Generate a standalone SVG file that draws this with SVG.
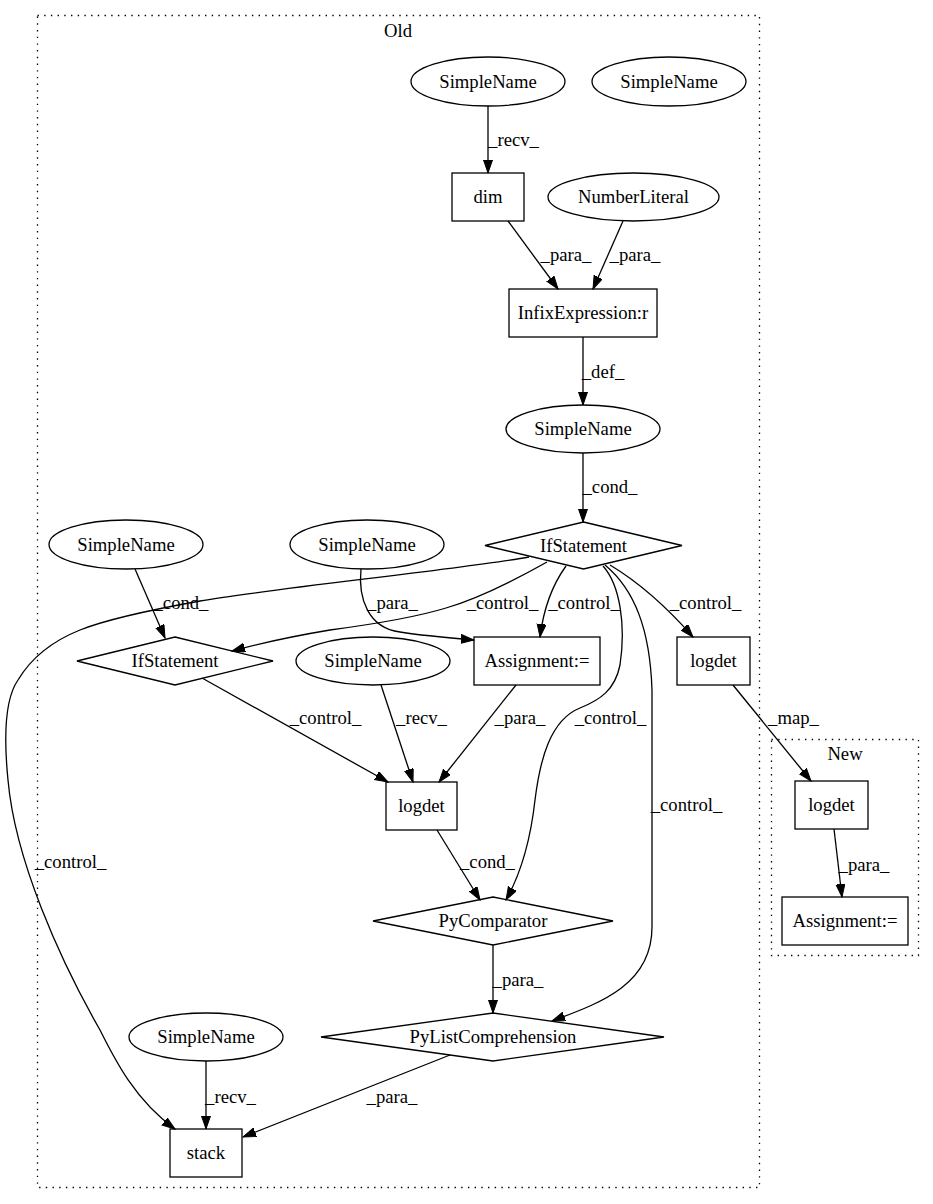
<svg xmlns="http://www.w3.org/2000/svg" width="933" height="1204" viewBox="0 0 933 1204">
<style>
text{font-family:"Liberation Serif","Times New Roman",serif;font-size:18.67px;fill:#000;text-anchor:middle}
.n{fill:none;stroke:#000;stroke-width:1.3}
.c{fill:none;stroke:#000;stroke-width:1.3;stroke-dasharray:1.4,5.3}
.e{fill:none;stroke:#000;stroke-width:1.3;marker-end:url(#a)}
</style>
<defs>
<marker id="a" markerUnits="userSpaceOnUse" markerWidth="14" markerHeight="10" refX="13" refY="4.7" orient="auto">
<path d="M0,0.2 L13,4.7 L0,9.2 z" fill="#000" stroke="#000" stroke-width="1"/>
</marker>
</defs>
<rect width="933" height="1204" fill="#fff"/>
<g id="cluster_old">
<rect class="c" x="37.5" y="15.5" width="722" height="1172"/>
<text x="398" y="37">Old</text>
</g>
<g id="cluster_new">
<rect class="c" x="771.5" y="739.5" width="147" height="216"/>
<text x="845" y="760">New</text>
</g>
<g id="edges">
<path class="e" d="M488,106 L488,173"/>
<text x="513.5" y="146">_recv_</text>
<path class="e" d="M508,221 L558,289"/>
<text x="566" y="261">_para_</text>
<path class="e" d="M623,221 L593,289"/>
<text x="635" y="261">_para_</text>
<path class="e" d="M583,337 L583,405"/>
<text x="603" y="378">_def_</text>
<path class="e" d="M583,453 L583,522"/>
<text x="610" y="493">_cond_</text>
<path class="e" d="M135,569 L165,638"/>
<text x="181" y="609">_cond_</text>
<path class="e" d="M361,569 C358,598 368,628 400,632 C425,636 450,638 474,640"/>
<text x="392.5" y="609">_para_</text>
<path class="e" d="M547,562 C515,580 480,598 446,608 C410,619 360,626 330,630 C300,635 265,642 232,651"/>
<text x="502.5" y="609">_control_</text>
<path class="e" d="M566,566 C553,584 544,605 540,637"/>
<text x="584" y="609">_control_</text>
<path class="e" d="M610,565 C635,580 665,605 693,637"/>
<text x="705.5" y="609">_control_</text>
<path class="e" d="M603,566 C620,585 626,625 620,665 C615,690 600,700 580,708 C550,720 540,760 535,800 C530,845 520,875 506,900"/>
<text x="610.5" y="724">_control_</text>
<path class="e" d="M605,565 C635,590 650,630 652,690 L652,927 C652,985 600,1003 552,1021"/>
<text x="686.5" y="811">_control_</text>
<path class="e" d="M529,557 C470,568 260,590 200,601 C150,610 105,620 80,630 C50,642 30,660 18,680 C4,700 4,740 8,780 C15,860 60,960 100,1030 C115,1060 135,1100 175,1129"/>
<text x="70.5" y="868">_control_</text>
<path class="e" d="M202,678 L388,782"/>
<text x="325.5" y="724">_control_</text>
<path class="e" d="M381,685 L413,782"/>
<text x="421.5" y="724">_recv_</text>
<path class="e" d="M516,685 L439,782"/>
<text x="520" y="724">_para_</text>
<path class="e" d="M733,685 L811,781"/>
<text x="793.5" y="724">_map_</text>
<path class="e" d="M437,830 L480,900"/>
<text x="487.5" y="868">_cond_</text>
<path class="e" d="M493,945 L493,1013"/>
<text x="518" y="986">_para_</text>
<path class="e" d="M206,1061 L206,1129"/>
<text x="230.5" y="1103">_recv_</text>
<path class="e" d="M450,1055 L243,1137"/>
<text x="392" y="1103">_para_</text>
<path class="e" d="M834,829 L842,897"/>
<text x="864" y="871">_para_</text>
</g>
<g id="n_simplename1"><ellipse class="n" cx="488" cy="81.5" rx="77" ry="24.5"/><text x="488" y="88">SimpleName</text></g>
<g id="n_simplename2"><ellipse class="n" cx="669" cy="81.5" rx="77" ry="24.5"/><text x="669" y="88">SimpleName</text></g>
<g id="n_dim"><rect class="n" x="452" y="173" width="72" height="48"/><text x="488" y="203">dim</text></g>
<g id="n_numberliteral"><ellipse class="n" cx="633.5" cy="197" rx="85.5" ry="24"/><text x="633.5" y="203">NumberLiteral</text></g>
<g id="n_infix"><rect class="n" x="509" y="289" width="148" height="48"/><text x="583" y="319">InfixExpression:r</text></g>
<g id="n_simplename3"><ellipse class="n" cx="583" cy="429" rx="77" ry="24"/><text x="583" y="435">SimpleName</text></g>
<g id="n_if1"><polygon class="n" points="583.5,522 682,545.5 583.5,569 485,545.5"/><text x="583.5" y="551.5">IfStatement</text></g>
<g id="n_simplename4"><ellipse class="n" cx="126" cy="544.5" rx="77" ry="24.5"/><text x="126" y="551">SimpleName</text></g>
<g id="n_simplename5"><ellipse class="n" cx="367" cy="544.5" rx="77" ry="24.5"/><text x="367" y="551">SimpleName</text></g>
<g id="n_if2"><polygon class="n" points="175,637 273,661 175,685 77,661"/><text x="175" y="667">IfStatement</text></g>
<g id="n_simplename6"><ellipse class="n" cx="373" cy="661" rx="77" ry="24"/><text x="373" y="667">SimpleName</text></g>
<g id="n_assign_old"><rect class="n" x="474" y="637" width="126" height="48"/><text x="537" y="667">Assignment:=</text></g>
<g id="n_logdet_right"><rect class="n" x="677" y="637" width="73" height="48"/><text x="713.5" y="667">logdet</text></g>
<g id="n_logdet_mid"><rect class="n" x="386" y="782" width="71" height="48"/><text x="421.5" y="812">logdet</text></g>
<g id="n_pycomparator"><polygon class="n" points="493,897 613,921 493,945 373,921"/><text x="493" y="927">PyComparator</text></g>
<g id="n_pylistcomp"><polygon class="n" points="493,1013 664,1037 493,1061 321,1037"/><text x="493" y="1043">PyListComprehension</text></g>
<g id="n_simplename7"><ellipse class="n" cx="206" cy="1037" rx="77" ry="24"/><text x="206" y="1043">SimpleName</text></g>
<g id="n_stack"><rect class="n" x="170" y="1129" width="72" height="48"/><text x="206" y="1159">stack</text></g>
<g id="n_logdet_new"><rect class="n" x="795" y="781" width="73" height="48"/><text x="831.5" y="811">logdet</text></g>
<g id="n_assign_new"><rect class="n" x="782" y="897" width="126" height="48"/><text x="845" y="927">Assignment:=</text></g>
</svg>
